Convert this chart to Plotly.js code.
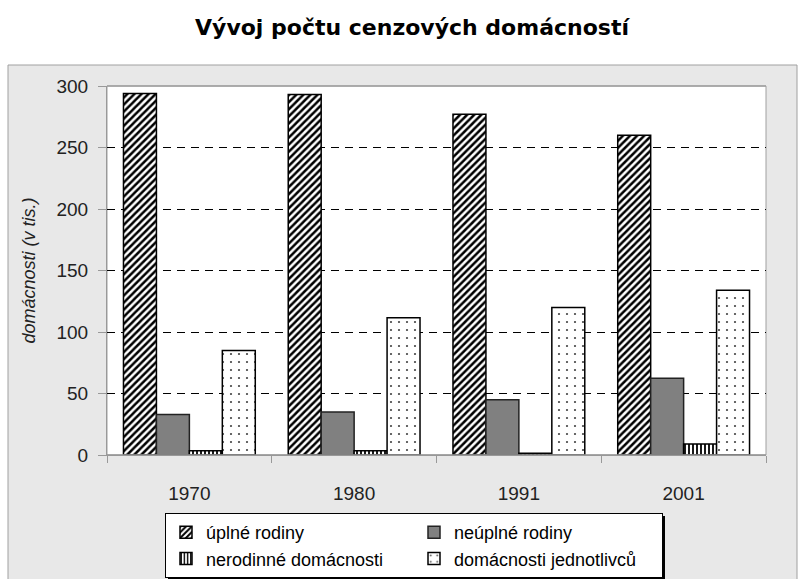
<!DOCTYPE html>
<html>
<head>
<meta charset="utf-8">
<script src="https://cdn.plot.ly/plotly-3.0.1.min.js"></script>
<style>html,body{margin:0;padding:0;background:#fff;}#chart{width:803px;height:579px;}</style>
</head>
<body>
<div id="chart"></div>
<script>
const years = ["1970", "1980", "1991", "2001"];
const seriesNames = ["úplné rodiny", "neúplné rodiny", "nerodinné domácnosti", "domácnosti jednotlivců"];
const uplneRodiny = [294, 293, 277, 260];
const neuplneRodiny = [33, 35, 45, 62.5];
const nerodinneDomacnosti = [3.5, 3.5, 1.5, 9];
const domacnostiJednotlivcu = [85, 111.5, 120, 134];
const yTicks = [0, 50, 100, 150, 200, 250, 300];

const font = "Liberation Sans, Arial, sans-serif";
const outline = {color: "#000", width: 1.5};

const traces = [
  {type: "bar", name: seriesNames[0], x: years, y: uplneRodiny,
   marker: {color: "#fff", line: outline, pattern: {shape: "/", fgcolor: "#000", bgcolor: "#fff", size: 5, solidity: 0.5}}},
  {type: "bar", name: seriesNames[1], x: years, y: neuplneRodiny,
   marker: {color: "#808080", line: {color: "#222", width: 1.5}}},
  {type: "bar", name: seriesNames[2], x: years, y: nerodinneDomacnosti,
   marker: {color: "#fff", line: outline, pattern: {shape: "|", fgcolor: "#000", bgcolor: "#fff", size: 4, solidity: 0.45}}},
  {type: "bar", name: seriesNames[3], x: years, y: domacnostiJednotlivcu,
   marker: {color: "#fff", line: outline, pattern: {shape: ".", fgcolor: "#444", bgcolor: "#fff", size: 8, solidity: 0.06}}}
];

const L = 107, R = 766, T = 86, B = 455, W = 803, H = 579;
const pw = R - L, ph = B - T;
const px = v => (v - L) / pw;
const py = v => (B - v) / ph;

const layout = {
  width: W, height: H,
  margin: {l: L, r: W - R, t: T, b: H - B, autoexpand: false},
  paper_bgcolor: "#fff",
  plot_bgcolor: "rgba(0,0,0,0)",
  font: {family: font, color: "#111"},
  title: {text: "Vývoj počtu cenzových domácností", font: {family: "DejaVu Sans, sans-serif", size: 22, weight: "bold", color: "#000"},
          xref: "paper", x: px(412), xanchor: "center", yref: "container", y: 1 - 27 / H, yanchor: "middle"},
  barmode: "group", bargap: 0.2, bargroupgap: 0,
  showlegend: true,
  legend: {orientation: "h", xref: "container", x: 165 / W, xanchor: "left", yref: "container", y: 1 - 513 / H, yanchor: "top",
           entrywidth: 203, entrywidthmode: "pixels",
           bgcolor: "#fff", bordercolor: "#000", borderwidth: 1,
           font: {family: font, size: 18, color: "#000"}, traceorder: "normal"},
  xaxis: {type: "category", automargin: false, showline: true, linecolor: "#999", linewidth: 1, ticks: "outside", tickson: "boundaries",
          ticklen: 7, tickcolor: "#999", showgrid: false, ticklabelstandoff: 21,
          tickfont: {family: font, size: 19, color: "#222"}},
  yaxis: {range: [0, 300], automargin: false, tickvals: yTicks, ticks: "outside", ticklen: 8, tickcolor: "#999",
          showline: true, linecolor: "#999", linewidth: 1, zeroline: false,
          showgrid: true, gridcolor: "#000", gridwidth: 1, griddash: "8px,6px",
          ticklabelstandoff: 6, tickfont: {family: font, size: 19, color: "#222"},
          title: {text: "<i>domácnosti (v tis.)</i>", font: {family: font, size: 18, color: "#222"}, standoff: 16}},
  shapes: [
    {type: "rect", xref: "paper", yref: "paper", x0: px(8), x1: px(797), y0: py(600), y1: py(65),
     fillcolor: "#e8e8e8", line: {color: "#a0a0a0", width: 1}, layer: "below"},
    {type: "rect", xref: "paper", yref: "paper", x0: 0, x1: 1, y0: 0, y1: 1,
     fillcolor: "#fff", line: {color: "#a0a0a0", width: 1}, layer: "below"},
    {type: "rect", xref: "paper", yref: "paper", x0: px(168), x1: px(665), y0: py(581), y1: py(516),
     fillcolor: "#000", line: {width: 0}, layer: "below"},
    {type: "line", xref: "paper", yref: "paper", x0: 0, x1: 1, y0: 1, y1: 1,
     line: {color: "#a0a0a0", width: 1.5}, layer: "above"},
    {type: "line", xref: "paper", yref: "paper", x0: 0, x1: 1, y0: 0, y1: 0,
     line: {color: "#999", width: 1.5}, layer: "above"}
  ]
};

Plotly.newPlot("chart", traces, layout, {displayModeBar: false, staticPlot: true});
</script>
</body>
</html>
